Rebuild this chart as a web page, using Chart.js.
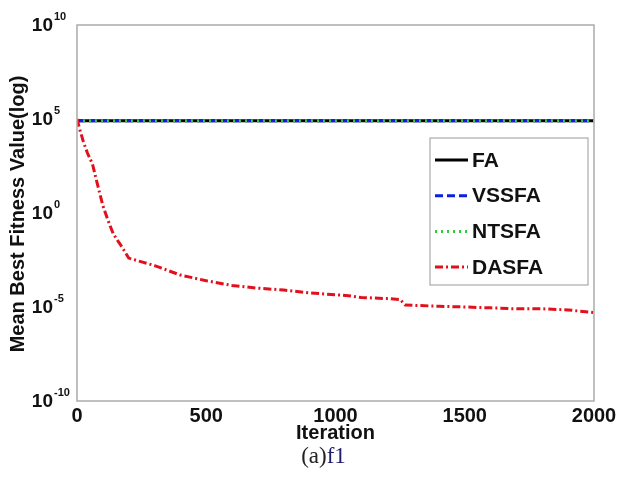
<!DOCTYPE html>
<html>
<head>
<meta charset="utf-8">
<script src="https://cdn.jsdelivr.net/npm/chart.js@4/dist/chart.umd.min.js"></script>
<style>
  html, body { margin: 0; padding: 0; background: #fff; }
  #wrap { width: 620px; height: 481px; }
</style>
</head>
<body>
<div id="wrap"><canvas id="myChart" width="620" height="481"></canvas></div>
<script>
// flat lines (FA, VSSFA, NTSFA sit on top of each other)
const flatIters = [0, 2000]
const faValues = [8e4, 8e4]
const vssfaValues = [8e4, 8e4]
const ntsfaValues = [8e4, 8e4]

// DASFA convergence curve
const dasfaIters = [0, 10, 25, 40, 60, 80, 100, 120, 140, 160, 175, 200, 250, 300, 400, 500, 600, 700, 800, 900, 1000, 1050, 1100, 1200, 1250, 1270, 1400, 1500, 1600, 1700, 1800, 1900, 2000]
const dasfaValues = [1e5, 3e4, 6e3, 1.6e3, 4e2, 3e1, 2.5, 4e-1, 8e-2, 3e-2, 1.5e-2, 4e-3, 2.5e-3, 1.6e-3, 5e-4, 2.5e-4, 1.4e-4, 1e-4, 8e-5, 5.6e-5, 4.5e-5, 4e-5, 3.2e-5, 2.8e-5, 2.5e-5, 1.26e-5, 1.1e-5, 1e-5, 9e-6, 8e-6, 8e-6, 7e-6, 5e-6]

const yTickExps = [-10, -5, 0, 5, 10]
const xTicks = [0, 500, 1000, 1500, 2000]
const seriesNames = ['FA', 'VSSFA', 'NTSFA', 'DASFA']

const toPoints = (xs, ys) => xs.map((x, i) => ({ x: x, y: ys[i] }))

const getDatasets = () => {
  // lower order is drawn on top
  return [
    { label: seriesNames[0], data: toPoints(flatIters, faValues), borderColor: '#000000', borderWidth: 3, borderDash: [], order: 3 },
    { label: seriesNames[1], data: toPoints(flatIters, vssfaValues), borderColor: '#0a1fe0', borderWidth: 3, borderDash: [8, 4], order: 2 },
    { label: seriesNames[2], data: toPoints(flatIters, ntsfaValues), borderColor: '#2ecc3a', borderWidth: 3, borderDash: [2, 4], order: 1 },
    { label: seriesNames[3], data: toPoints(dasfaIters, dasfaValues), borderColor: '#e3101c', borderWidth: 3, borderDash: [8, 3, 2, 3], order: 0 }
  ].map(d => Object.assign(d, { pointRadius: 0, fill: false, tension: 0, backgroundColor: 'transparent' }))
}

const boldFont = 'Liberation Sans, Arial, sans-serif'

const decorations = {
  id: 'decorations',
  afterDraw(chart) {
    const ctx = chart.ctx
    const area = chart.chartArea
    const y = chart.scales.y
    ctx.save()
    // frame
    ctx.strokeStyle = '#ababab'
    ctx.lineWidth = 1.5
    ctx.strokeRect(area.left, area.top, area.right - area.left, area.bottom - area.top)

    // y tick labels 10^n
    ctx.fillStyle = '#111'
    ctx.textBaseline = 'middle'
    for (const e of yTickExps) {
      const py = y.getPixelForValue(Math.pow(10, e))
      ctx.font = 'bold 19px ' + boldFont
      ctx.textAlign = 'right'
      ctx.fillText('10', area.left - 24, py + 1)
      ctx.font = 'bold 11px ' + boldFont
      ctx.textAlign = 'left'
      ctx.fillText(String(e), area.left - 23, py - 8)
    }

    // y axis title
    ctx.save()
    ctx.translate(18, (area.top + area.bottom) / 2 + 1)
    ctx.rotate(-Math.PI / 2)
    ctx.font = 'bold 20px ' + boldFont
    ctx.textAlign = 'center'
    ctx.fillText('Mean Best Fitness Value(log)', 0, 0)
    ctx.restore()

    // legend
    const lx = area.right - 164
    const ly = area.top + 113
    const lw = 158
    const lh = 147
    ctx.fillStyle = '#fff'
    ctx.fillRect(lx, ly, lw, lh)
    ctx.strokeStyle = '#9a9a9a'
    ctx.lineWidth = 1
    ctx.strokeRect(lx, ly, lw, lh)
    const rowGap = 35.7
    chart.data.datasets.forEach((ds, i) => {
      const ry = ly + 22 + i * rowGap
      ctx.strokeStyle = ds.borderColor
      ctx.lineWidth = 3
      ctx.setLineDash(ds.borderDash)
      ctx.beginPath()
      ctx.moveTo(lx + 5, ry)
      ctx.lineTo(lx + 38, ry)
      ctx.stroke()
      ctx.setLineDash([])
      ctx.fillStyle = '#111'
      ctx.font = 'bold 21px ' + boldFont
      ctx.textAlign = 'left'
      ctx.fillText(ds.label, lx + 42, ry + 1)
    })

    // caption
    ctx.font = '23px Liberation Serif, Times New Roman, serif'
    ctx.textAlign = 'left'
    const capA = '(a)'
    const capB = 'f1'
    const wA = ctx.measureText(capA).width
    const wB = ctx.measureText(capB).width
    const cx = (area.left + area.right) / 2 - 12 - (wA + wB) / 2
    ctx.fillStyle = '#222'
    ctx.fillText(capA, cx, 457)
    ctx.fillStyle = '#1c1c6a'
    ctx.fillText(capB, cx + wA, 457)
    ctx.restore()
  }
}

const graphicSetup = (datasets) => {
  const ctx = document.getElementById('myChart')
  new Chart(ctx, {
    type: 'line',
    data: { datasets: datasets },
    options: {
      responsive: false,
      animation: false,
      layout: { padding: { left: 0, right: 26, top: 25, bottom: 36 } },
      plugins: {
        legend: { display: false },
        tooltip: { enabled: false }
      },
      scales: {
        x: {
          type: 'linear',
          min: 0,
          max: 2000,
          afterBuildTicks: s => { s.ticks = xTicks.map(v => ({ value: v })) },
          afterFit: s => { s.height = 44 },
          grid: { display: false },
          border: { display: false },
          ticks: {
            color: '#111',
            padding: -5,
            maxRotation: 0,
            callback: v => String(v),
            font: { family: boldFont, size: 20, weight: 'bold' }
          },
          title: {
            display: true,
            text: 'Iteration',
            color: '#111',
            padding: 0,
            font: { family: boldFont, size: 20, weight: 'bold' }
          }
        },
        y: {
          type: 'logarithmic',
          min: 1e-10,
          max: 1e10,
          afterFit: s => { s.width = 77 },
          grid: { display: false },
          border: { display: false },
          ticks: { display: false }
        }
      }
    },
    plugins: [decorations]
  })
}

graphicSetup(getDatasets())
</script>
</body>
</html>
